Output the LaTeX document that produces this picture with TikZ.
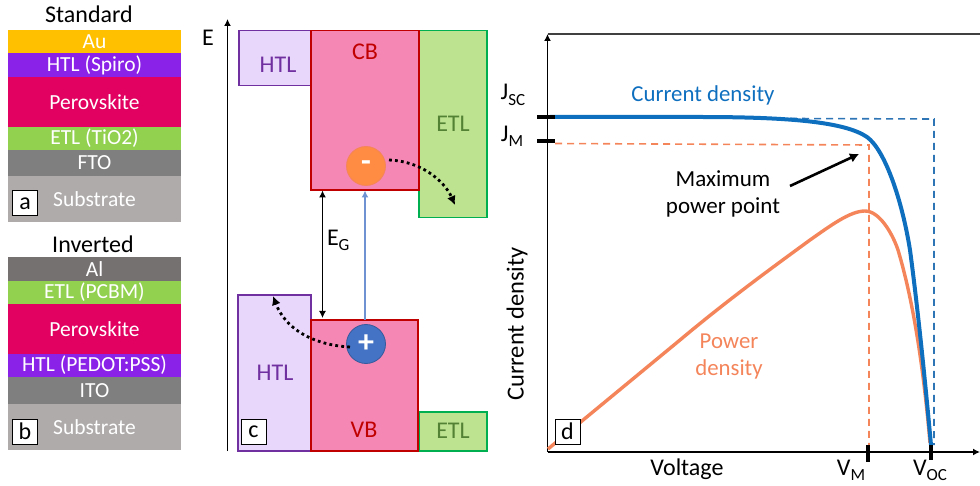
\documentclass[tikz,border=0pt]{standalone}
\usepackage{fontspec}
\setmainfont{Carlito}
\usetikzlibrary{arrows.meta,calc,decorations.markings}
\newcommand{\fsz}[1]{\fontsize{#1}{#1}\selectfont}
\newcommand{\subt}[1]{\raisebox{-0.22em}{\fontsize{17}{17}\selectfont #1}}
\definecolor{cAu}{HTML}{FFC000}
\definecolor{cHTL}{HTML}{8B22E8}
\definecolor{cPer}{HTML}{E20060}
\definecolor{cETL}{HTML}{92D050}
\definecolor{cFTO}{HTML}{7F7F7F}
\definecolor{cSub}{HTML}{AFABAB}
\definecolor{cAl}{HTML}{767171}
\definecolor{cPur}{HTML}{7030A0}
\definecolor{cPurF}{HTML}{E9D7FB}
\definecolor{cRed}{HTML}{C00000}
\definecolor{cPink}{HTML}{F587B4}
\definecolor{cGrn}{HTML}{00B050}
\definecolor{cGrnF}{HTML}{BDE391}
\definecolor{cGrnT}{HTML}{548235}
\definecolor{cOr}{HTML}{F4845A}
\definecolor{cCirc}{HTML}{FF8C42}
\definecolor{cBlu}{HTML}{0F6FBF}
\definecolor{cBluD}{HTML}{2E75B6}
\definecolor{cPlus}{HTML}{4472C4}
\definecolor{cThin}{HTML}{6F92D2}
\tikzset{
  every node/.style={inner sep=0pt,outer sep=0pt},
  layer/.style={anchor=north west,minimum width=173pt,text=white,font=\fsz{21.5}},
  tag/.style={draw=black,line width=1pt,fill=white,anchor=north west,minimum width=25pt,minimum height=25pt,font=\fsz{24}},
  band/.style={anchor=north west,line width=1.8pt},
  htlb/.style={band,draw=cPur,fill=cPurF},
  perb/.style={band,draw=cRed,fill=cPink},
  etlb/.style={band,draw=cGrn,fill=cGrnF},
  lab/.style={font=\fsz{24}},
  dotarrow/.style={line width=2.8pt,dash pattern=on 2.8pt off 3.2pt,-{Latex[length=9pt,width=9pt]}},
  curve/.style={line width=4pt},
  dash1/.style={line width=1.6pt,dash pattern=on 7pt off 5pt},
  tick/.style={line width=4pt}
}
\begin{document}
\begin{tikzpicture}[x=1pt,y=-1pt]
\useasboundingbox (0,0) rectangle (980,486);
% panel a
\node[lab] (stdT) at (89,14) {Standard};
\node[layer,fill=cAu,minimum height=23pt] (a1) at (8,30) {Au};
\node[layer,fill=cHTL,minimum height=24pt] (a2) at (8,53) {HTL (Spiro)};
\node[layer,fill=cPer,minimum height=50pt] (a3) at (8,77) {Perovskite};
\node[layer,fill=cETL,minimum height=23pt] (a4) at (8,127) {ETL (TiO2)};
\node[layer,fill=cFTO,minimum height=26pt] (a5) at (8,150) {FTO};
\node[layer,fill=cSub,minimum height=46pt] (a6) at (8,176) {Substrate};
\node[tag] (tagA) at (12.5,191) {a};
% panel b
\node[lab] (invT) at (93,244) {Inverted};
\node[layer,fill=cAl,minimum height=23.5pt] (b1) at (8,257.5) {Al};
\node[layer,fill=cETL,minimum height=23pt] (b2) at (8,281) {ETL (PCBM)};
\node[layer,fill=cPer,minimum height=50pt] (b3) at (8,304) {Perovskite};
\node[layer,fill=cHTL,minimum height=23pt] (b4) at (8,354) {HTL (PEDOT:PSS)};
\node[layer,fill=cFTO,minimum height=27pt] (b5) at (8,377) {ITO};
\node[layer,fill=cSub,minimum height=46pt] (b6) at (8,404) {Substrate};
\node[tag] (tagB) at (12.5,419) {b};
% panel c
\coordinate (eB) at (227.5,451);
\coordinate (eT) at (227.5,19);
\draw[line width=1.9pt,-{Latex[length=7pt,width=7pt]}] (eB) -- (eT);
\node[lab] (eLab) at (208,38) {E};
\node[htlb,minimum width=72pt,minimum height=55pt] (htlT) at (239,30.5) {};
\node[htlb,minimum width=73pt,minimum height=156pt] (htlB) at (238,295) {};
\node[etlb,minimum width=68pt,minimum height=187pt] (etlT) at (419,30.5) {};
\node[etlb,minimum width=68pt,minimum height=39pt] (etlB) at (419,412) {};
\node[perb,minimum width=108pt,minimum height=159.5pt] (cb) at (311,30.5) {};
\node[perb,minimum width=107pt,minimum height=131pt] (vb) at (311,320) {};
\node[font=\fsz{24},text=cRed] (cbT) at (365,52) {CB};
\node[font=\fsz{24},text=cRed] (vbT) at (364,430) {VB};
\node[font=\fsz{24},text=cPur] (htlA) at (278,65) {HTL};
\node[font=\fsz{24},text=cPur] (htlC) at (275,373) {HTL};
\node[font=\fsz{24},text=cGrnT] (etlA) at (453,124) {ETL};
\node[font=\fsz{24},text=cGrnT] (etlC) at (453,431) {ETL};
\coordinate (egT) at (322.5,190.5);
\coordinate (egB) at (322.5,318);
\draw[line width=1.2pt,{Latex[length=7pt,width=7pt]}-{Latex[length=7pt,width=7pt]}] (egT) -- (egB);
\node[anchor=west,font=\fsz{24}] (egL) at (327,240) {E\subt{G}};
\coordinate (thB) at (365,320);
\coordinate (thT) at (365,190.5);
\draw[cThin,line width=1.4pt,-{Latex[length=7pt,width=7pt]}] (thB) -- (thT);
\node[circle,draw=cOr,line width=0.8pt,fill=cCirc,minimum size=39pt,text=white] (minus) at (366,166) {\fsz{32}\bfseries -};
\node[circle,draw=cPlus!80!black,line width=0.8pt,fill=cPlus,minimum size=39pt,text=white] (plus) at (366,344) {\fsz{32}\bfseries +};
\coordinate (mEnd) at (455,205);
\coordinate (pEnd) at (273,296);
\draw[dotarrow] (389,160) .. controls (420,161) and (444,180) .. (mEnd);
\draw[dotarrow] (350,347) .. controls (312,345) and (285,328) .. (pEnd);
\node[tag] (tagC) at (241,419) {c};
% panel d
\coordinate (topL) at (547.5,34);
\coordinate (topR) at (980,34);
\draw[black!75,line width=1.4pt] (topL) -- (topR);
\coordinate (o) at (547.5,452);
\coordinate (xE) at (980,452);
\coordinate (yE) at (547.5,34);
\draw[line width=1.9pt,-{Latex[length=7pt,width=7pt]}] (o) -- (yE);
\draw[line width=1.9pt,-{Latex[length=7pt,width=7pt]}] (o) -- (xE);
% dashed guides
\coordinate (jm) at (555,143.5);
\coordinate (mp) at (869,145);
\coordinate (vm) at (869,445);
\coordinate (js) at (790,118.5);
\coordinate (oc) at (934,119);
\coordinate (vo) at (934,445);
\draw[cOr,dash1] (jm) -- (mp) -- (vm);
\draw[cBluD,dash1] (js) -- (oc) -- (vo);
% curves
\draw[cOr,line width=3.4pt] (548,449) -- (680,340) .. controls (730,298) and (780,262) .. (810,240) .. controls (830,226) and (850,211) .. (865,211) .. controls (880,211) and (893,235) .. (898,250) .. controls (910,290) and (922,350) .. (930,443);
\draw[cBlu,curve] (550,117) -- (700,117) .. controls (790,117) and (845,122) .. (867,137) .. controls (885,150) and (902,200) .. (910,250) .. controls (918,310) and (925,380) .. (931,445);
% ticks
\draw[tick] (537,117) -- (555,117);
\draw[tick] (537,141.5) -- (555,141.5);
\draw[tick] (868,445) -- (868,462);
\draw[tick] (931,445) -- (931,460);
% labels
\node[lab] (jsc) at (513,95) {J\subt{SC}};
\node[lab] (jmL) at (512,136) {J\subt{M}};
\node[font=\fsz{22.8},text=cBlu] (cdT) at (703,95) {Current density};
\node[font=\fsz{23}] (mx1) at (723,179) {Maximum};
\node[font=\fsz{23}] (mx2) at (723,207) {power point};
\coordinate (arA) at (790,186);
\coordinate (arB) at (859,154);
\draw[line width=2.6pt,-{Latex[length=9pt,width=10pt]}] (arA) -- (arB);
\node[font=\fsz{22.8},text=cOr] (pw1) at (729,341) {Power};
\node[font=\fsz{22.8},text=cOr] (pw2) at (729,369) {density};
\node[font=\fsz{24.5},rotate=90] (ylab) at (517,324) {Current density};
\node[lab] (xlab) at (687,469) {Voltage};
\node[lab] (vmL) at (851,470) {V\subt{M}};
\node[lab] (vocL) at (930,470) {V\subt{OC}};
\node[tag] (tagD) at (555,419) {d};
\end{tikzpicture}
\end{document}
